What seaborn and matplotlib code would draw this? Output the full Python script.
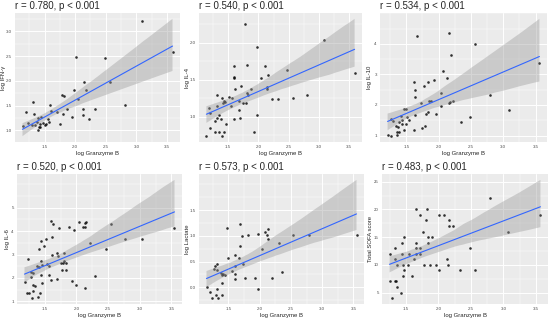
import matplotlib
matplotlib.use("Agg")
import matplotlib.pyplot as plt
from matplotlib.collections import PolyCollection
from matplotlib.ticker import AutoMinorLocator
import seaborn as sns

# === Data ===
gzb_ifng = [3.09, 3.59, 2.01, 2.48, 2.57, 2.15, 1.98, 2.17, 1.79, 1.81, 2.05, 2.81, 1.59, 1.31,
            2.12, 2.32, 1.87, 1.71, 1.61, 1.80, 2.12, 1.95, 2.23, 1.19, 1.32, 1.39, 1.45, 1.55,
            1.76, 1.58, 1.23, 1.29, 1.37, 1.42, 1.47, 1.50, 1.52, 1.41, 1.43, 1.40, 1.14, 1.34]
ifng = [3.20, 2.58, 2.47, 2.45, 1.98, 1.98, 1.82, 1.82, 1.72, 1.69, 1.64, 1.51, 1.51, 1.57,
        1.44, 1.42, 1.43, 1.36, 1.38, 1.33, 1.31, 1.27, 1.23, 1.36, 1.33, 1.25, 1.27, 1.23,
        1.12, 1.17, 1.14, 1.10, 1.17, 1.12, 1.14, 1.10, 1.12, 1.07, 1.07, 1.00, 1.09, 1.10]

gzb_il4 = [1.77, 3.08, 1.98, 3.59, 1.59, 1.81, 2.11, 2.48, 1.59, 1.60, 2.16, 2.05, 1.72, 1.61,
           2.14, 2.14, 1.88, 1.81, 1.83, 1.32, 1.51, 1.57, 1.40, 2.23, 2.32, 2.57, 2.81, 1.68,
           1.43, 1.41, 1.44, 1.75, 1.79, 1.31, 1.55, 1.18, 1.68, 1.20, 1.34, 1.98, 1.31, 1.38,
           1.69, 1.59, 1.28, 1.47, 1.20, 1.28, 1.34, 1.43, 1.93, 1.14, 1.39]
il4 = [2.25, 2.03, 1.94, 1.59, 1.69, 1.70, 1.69, 1.63, 1.54, 1.53, 1.56, 1.52, 1.42, 1.38,
       1.40, 1.38, 1.37, 1.32, 1.30, 1.29, 1.27, 1.25, 1.26, 1.24, 1.24, 1.26, 1.30, 1.22,
       1.22, 1.19, 1.20, 1.19, 1.19, 1.15, 1.15, 1.12, 1.09, 1.05, 1.03, 1.03, 0.99, 0.97,
       0.99, 0.97, 0.94, 0.91, 0.85, 0.79, 0.79, 0.79, 0.79, 0.74, 0.74]

gzb_il10 = [1.66, 2.16, 2.57, 2.19, 2.07, 2.13, 1.62, 1.84, 1.93, 1.77, 1.64, 1.64, 2.03, 2.80,
            1.85, 1.88, 1.73, 2.16, 2.23, 2.18, 2.03, 1.46, 1.50, 3.09, 1.84, 1.81, 1.96, 1.64,
            1.41, 1.51, 1.54, 2.49, 1.27, 1.29, 1.44, 1.39, 2.34, 1.43, 1.49, 1.34, 1.37, 1.79,
            1.74, 1.62, 1.46, 1.35, 1.39, 1.36, 1.21, 1.26, 3.56]
il10 = [4.27, 4.34, 4.01, 3.65, 3.10, 2.87, 2.74, 2.76, 2.81, 2.62, 2.50, 2.27, 2.38, 2.33,
        2.14, 2.14, 2.05, 2.05, 2.12, 2.10, 1.98, 1.87, 1.86, 1.82, 1.76, 1.71, 1.70, 1.67,
        1.65, 1.60, 1.50, 1.62, 1.53, 1.49, 1.50, 1.44, 1.44, 1.39, 1.38, 1.31, 1.29, 1.31,
        1.23, 1.17, 1.17, 1.12, 1.12, 1.03, 1.03, 0.98, 3.39]

gzb_il6 = [1.60, 1.63, 1.72, 1.88, 2.04, 2.11, 2.13, 2.13, 2.15, 1.97, 2.55, 3.55, 1.61, 1.52,
           1.44, 3.04, 2.77, 2.21, 1.49, 2.46, 1.41, 1.70, 1.80, 1.62, 1.71, 1.23, 1.44, 1.80,
           1.79, 1.83, 1.75, 1.46, 1.54, 1.37, 1.41, 1.57, 1.78, 1.84, 1.28, 1.32, 1.28, 1.57,
           1.70, 1.60, 2.30, 1.44, 1.18, 1.93, 1.99, 1.32, 1.34, 1.46, 2.14, 1.32, 1.25, 1.22,
           1.43, 1.40, 1.30]
il6 = [4.45, 4.32, 4.13, 4.16, 4.38, 4.16, 4.16, 4.35, 4.38, 4.06, 4.31, 4.12, 3.74, 3.66,
       3.57, 3.66, 3.66, 3.48, 3.36, 3.23, 3.22, 3.08, 3.05, 2.99, 2.92, 2.79, 2.73, 2.73,
       2.62, 2.62, 2.64, 2.57, 2.60, 2.51, 2.47, 2.49, 2.34, 2.34, 2.27, 2.23, 2.06, 2.14,
       1.95, 1.92, 2.08, 2.14, 1.84, 1.88, 1.71, 1.69, 1.66, 1.79, 1.58, 1.44, 1.36, 1.36,
       1.34, 1.17, 1.14]

gzb_lact = [1.69, 1.48, 1.72, 1.81, 1.98, 2.14, 2.09, 2.12, 2.14, 2.54, 2.79, 3.55, 2.31, 1.69,
            2.03, 1.61, 1.50, 1.67, 1.74, 1.31, 1.29, 1.60, 1.27, 1.32, 1.56, 1.38, 1.42, 1.45,
            1.39, 1.60, 2.35, 1.60, 1.77, 1.92, 2.20, 1.40, 1.15, 1.98, 1.32, 1.21, 1.30, 1.39,
            1.24, 1.34]
lactate = [1.23, 1.16, 0.99, 1.02, 1.03, 1.14, 1.07, 1.01, 0.93, 1.01, 1.02, 1.01, 0.86, 0.81,
           0.74, 0.63, 0.57, 0.57, 0.45, 0.45, 0.41, 0.41, 0.36, 0.34, 0.31, 0.27, 0.26, 0.24,
           0.24, 0.25, 0.29, 0.16, 0.18, 0.18, 0.18, 0.08, 0.01, -0.03, -0.04, -0.09, -0.15, -0.15,
           -0.21, -0.21]

gzb_sofa = [2.80, 1.66, 1.82, 1.72, 2.01, 2.08, 3.57, 1.81, 2.17, 2.17, 2.23, 1.76, 3.07, 1.84,
            1.91, 1.47, 1.44, 1.65, 1.84, 1.34, 1.65, 1.72, 2.48, 1.26, 1.44, 1.55, 1.65, 1.72,
            2.13, 1.34, 1.63, 1.37, 1.45, 1.53, 1.78, 1.87, 1.96, 2.15, 1.47, 2.01, 2.34, 2.57,
            1.45, 1.60, 1.25, 1.33, 1.35, 1.37, 1.42, 1.29]
sofa = [22, 20, 20, 19, 19, 19, 19, 18, 18, 17, 17, 16, 16, 15, 15, 15, 14, 14, 14, 13,
        13, 13, 13, 12, 12, 12, 12, 12, 11, 11, 11, 10, 10, 10, 10, 10, 10, 10, 9, 9,
        9, 9, 8, 8, 7, 7, 7, 6, 5, 4]

titles = ["r = 0.780, p < 0.001", "r = 0.540, p < 0.001", "r = 0.534, p < 0.001",
          "r = 0.520, p < 0.001", "r = 0.573, p < 0.001", "r = 0.483, p < 0.001"]
ylabels = ["log IFN-γ", "log IL-4", "log IL-10", "log IL-6", "log Lactate", "Total SOFA score"]
xlabel = "log Granzyme B"
xticks = [1.5, 2.0, 2.5, 3.0, 3.5]
yticks = [[1.0, 1.5, 2.0, 2.5, 3.0], [1.0, 1.5, 2.0], [1, 2, 3, 4],
          [1, 2, 3, 4, 5], [0.0, 0.5, 1.0, 1.5], [5, 10, 15, 20, 25]]
yfmt = ["%.1f", "%.1f", "%d", "%d", "%.1f", "%d"]

panels = [(gzb_ifng, ifng), (gzb_il4, il4), (gzb_il10, il10),
          (gzb_il6, il6), (gzb_lact, lactate), (gzb_sofa, sofa)]

# panel boxes in pixels: left, top, right, bottom
boxes = [(15, 13, 180, 142), (199, 13, 362, 142), (380, 13, 547, 142),
         (17, 174, 182, 304), (199, 174, 364, 304), (382, 174, 548, 304)]
# y-label centre, pixels left of the panel
ylab_off = [11, 11, 10, 10, 11.5, 12]

# === Style (ggplot-like grey) ===
sns.set_theme(style="darkgrid", rc={"axes.facecolor": "#EBEBEB", "grid.color": "white"})
plt.rcParams["font.family"] = ["Liberation Sans", "DejaVu Sans"]

W, H = 550, 322
fig = plt.figure(figsize=(W / 100, H / 100), dpi=100)

for i, ((x, y), (l, t, r, b)) in enumerate(zip(panels, boxes)):
    ax = fig.add_axes([l / W, 1 - b / H, (r - l) / W, (b - t) / H])
    sns.regplot(x=x, y=y, ax=ax, ci=95, n_boot=1000, seed=1, color="black",
                scatter_kws=dict(s=3.5, linewidths=0),
                line_kws=dict(color="#3366FF", lw=0.8))
    # grey confidence ribbon like geom_smooth
    for c in ax.collections:
        if isinstance(c, PolyCollection):
            c.set_facecolor("#999999")
            c.set_alpha(0.4)
            c.set_edgecolor("none")

    ax.set_xticks(xticks)
    ax.set_xticklabels(["%.1f" % v for v in xticks])
    ax.set_yticks(yticks[i])
    ax.set_yticklabels([yfmt[i] % v for v in yticks[i]])
    ax.xaxis.set_minor_locator(AutoMinorLocator(2))
    ax.yaxis.set_minor_locator(AutoMinorLocator(2))
    ax.grid(which="major", color="white", lw=0.7)
    ax.grid(which="minor", color="white", lw=0.35)
    ax.tick_params(which="major", labelsize=3.2, length=1.5, width=0.4, color="#333333",
                   labelcolor="#4D4D4D", pad=0.8)
    ax.tick_params(which="minor", length=0)
    for s in ax.spines.values():
        s.set_visible(False)

    ax.set_xlabel(xlabel, fontsize=4.3, labelpad=1.5)
    ax.set_ylabel(ylabels[i], fontsize=4.3, va="center")
    ax.yaxis.set_label_coords(-ylab_off[i] / (r - l), 0.5)
    ax.set_title(titles[i], loc="left", fontsize=7, pad=3)

fig.savefig("out.png", dpi=100)
